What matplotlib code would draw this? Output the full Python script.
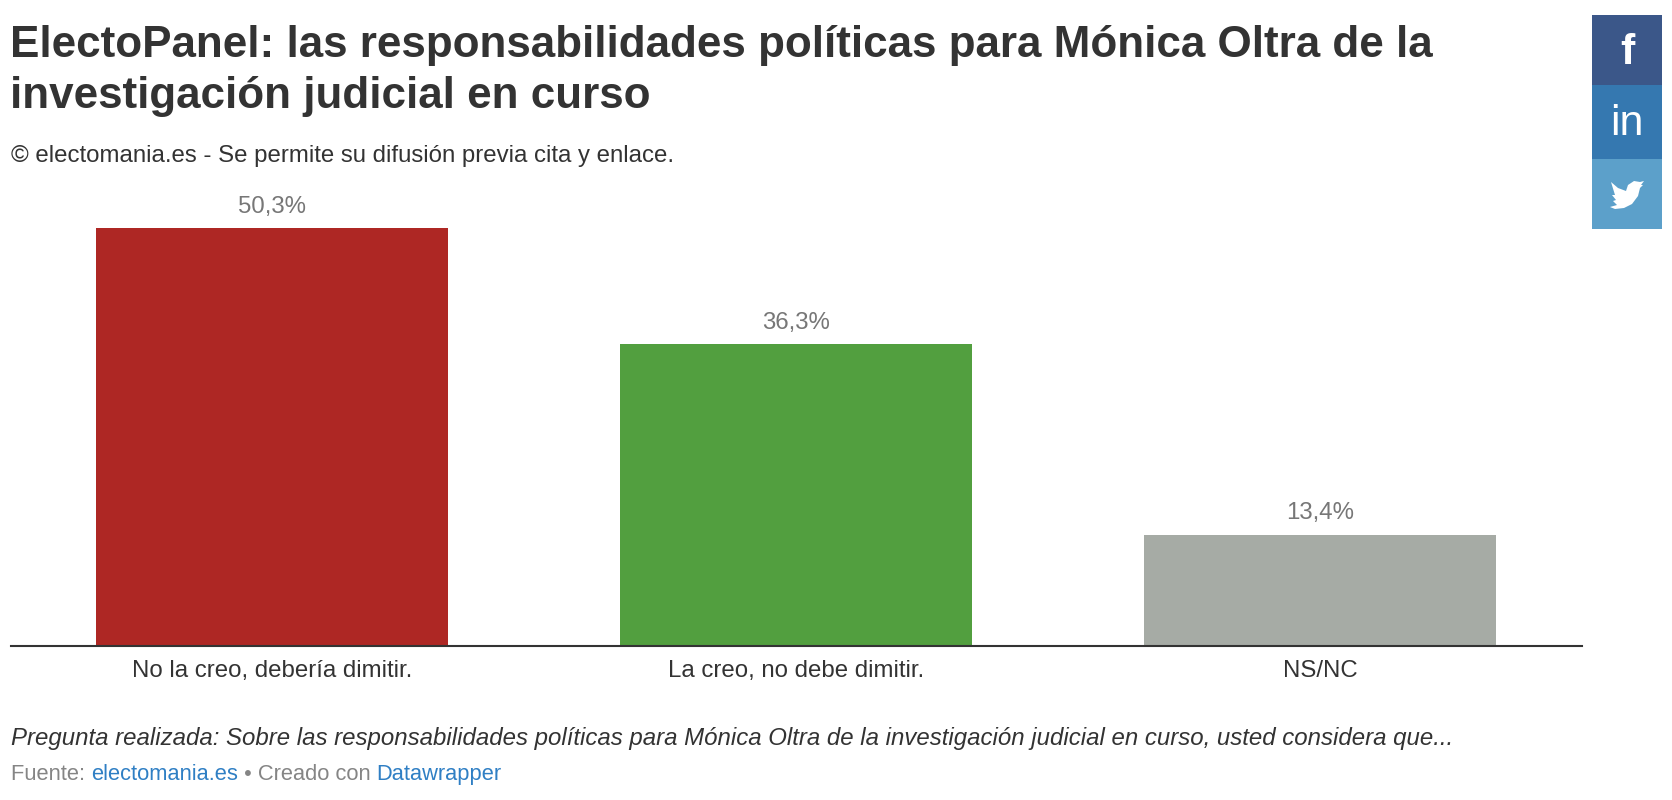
import matplotlib
matplotlib.use('Agg')
import matplotlib.pyplot as plt
from matplotlib.patches import Rectangle, Polygon

plt.rcParams['font.family'] = ['Liberation Sans', 'DejaVu Sans']

W, H = 1672, 800

categories = ['No la creo, debería dimitir.', 'La creo, no debe dimitir.', 'NS/NC']
values = [50.3, 36.3, 13.4]
colors = ['#ae2724', '#529f3f', '#a6aba5']

title_lines = ['ElectoPanel: las responsabilidades políticas para Mónica Oltra de la',
               'investigación judicial en curso']
subtitle = '© electomania.es - Se permite su difusión previa cita y enlace.'
question = ('Pregunta realizada: Sobre las responsabilidades políticas para Mónica Oltra '
            'de la investigación judicial en curso, usted considera que...')
footer = [('Fuente: ', '#858585'), ('electomania.es', '#2f7fc4'),
          (' • Creado con ', '#858585'), ('Datawrapper', '#2f7fc4')]
tiles = [(15, 85, '#3b5789'), (85, 159, '#3578b0'), (159, 229, '#5ca0ca')]


def fx(x):
    return x / W


def fy(y):
    return 1 - y / H


fig = plt.figure(figsize=(W / 100, H / 100), dpi=100, facecolor='white')

# bars: one category step is 524 px, 8.31 px per point
left, right, top, base = 11, 1582, 180, 646
ax = fig.add_axes([fx(left), fy(base), fx(right - left), (base - top) / H])
ax.set_xlim(-0.498, 2.5)
ax.set_ylim(0, (base - top) / 8.31)
bars = ax.bar(range(3), values, width=0.672, color=colors)
ax.bar_label(bars, labels=[f'{v:.1f}%'.replace('.', ',') for v in values],
             padding=7.5, fontsize=17.3, color='#777777')
ax.set_xticks(range(3), categories, fontsize=17.3, color='#333333')
ax.tick_params(axis='x', length=0, pad=10)
ax.set_yticks([])
for s in ['top', 'left', 'right']:
    ax.spines[s].set_visible(False)
ax.spines['bottom'].set_color('#333333')
ax.spines['bottom'].set_linewidth(1.5)

# heading
fig.text(fx(10), fy(57), title_lines[0], fontsize=31.7, fontweight='bold', color='#333333')
fig.text(fx(10), fy(108), title_lines[1], fontsize=31.7, fontweight='bold', color='#333333')
fig.text(fx(11), fy(162), subtitle, fontsize=17.25, color='#333333')

# notes
fig.text(fx(11), fy(745), question, fontsize=17.27, style='italic', color='#333333')
x = 11
renderer = fig.canvas.get_renderer()
for txt, col in footer:
    t = fig.text(fx(x), fy(780), txt, fontsize=15.75, color=col)
    x = x + t.get_window_extent(renderer).width

# share buttons
for y0, y1, col in tiles:
    fig.add_artist(Rectangle((fx(1592), fy(y1)), 70 / W, (y1 - y0) / H, color=col,
                             transform=fig.transFigure, lw=0))
fig.text(fx(1627), fy(64), 'f', fontsize=31, fontweight='bold', color='white', ha='center')
fig.text(fx(1627), fy(135), 'in', fontsize=31, color='white', ha='center')
bird = [(1611, 182), (1618, 188), (1626, 191), (1628, 185), (1634, 181), (1640, 182), (1644, 181),
        (1641, 185), (1643, 185), (1640, 188), (1638, 196), (1632, 204), (1624, 208), (1615, 209),
        (1610, 207), (1617, 205), (1613, 201), (1616, 200), (1612, 195), (1615, 195)]
fig.add_artist(Polygon([(fx(a), fy(b)) for a, b in bird], closed=True, color='white', lw=0,
                       transform=fig.transFigure))

fig.savefig('out.png', dpi=100)
